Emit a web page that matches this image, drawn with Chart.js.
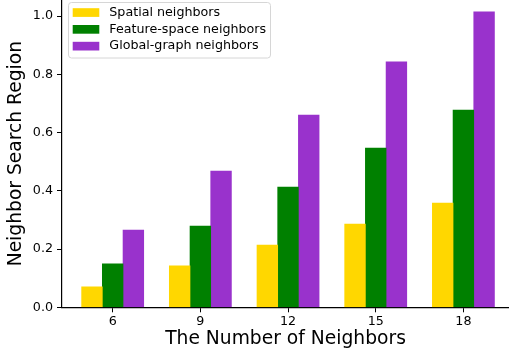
<!DOCTYPE html>
<html>
<head>
<meta charset="utf-8">
<script src="https://cdn.jsdelivr.net/npm/chart.js@4"></script>
<style>
  html, body { margin: 0; padding: 0; background: #fff; }
  #wrap { width: 509px; height: 351px; }
</style>
</head>
<body>
<div id="wrap"><canvas id="myChart" width="509" height="351"></canvas></div>
<script>
var categories = ["6", "9", "12", "15", "18"];
var spatial = [0.070, 0.142, 0.214, 0.286, 0.358];
var featureSpace = [0.149, 0.279, 0.413, 0.547, 0.677];
var globalGraph = [0.265, 0.468, 0.660, 0.843, 1.014];
var yTicks = [0, 0.2, 0.4, 0.6, 0.8, 1.0];

function points(vals) {
    var out = [];
    for (var i = 0; i < vals.length; i++) {
        out.push({ x: i, y: vals[i] });
    }
    return out;
}

// legend box drawn inside the plot, top left like matplotlib
var boxLegend = {
    id: "boxLegend",
    afterDraw: function (chart) {
        var ctx = chart.ctx;
        var x = 68.5, y = 2.5, w = 202, h = 55.5, r = 3;
        ctx.save();
        ctx.beginPath();
        ctx.moveTo(x + r, y);
        ctx.arcTo(x + w, y, x + w, y + h, r);
        ctx.arcTo(x + w, y + h, x, y + h, r);
        ctx.arcTo(x, y + h, x, y, r);
        ctx.arcTo(x, y, x + w, y, r);
        ctx.closePath();
        ctx.fillStyle = "rgba(255,255,255,0.8)";
        ctx.fill();
        ctx.strokeStyle = "#d6d6d6";
        ctx.lineWidth = 1;
        ctx.stroke();
        ctx.font = "12.7px 'DejaVu Sans'";
        ctx.textBaseline = "middle";
        ctx.textAlign = "left";
        chart.data.datasets.forEach(function (ds, i) {
            var cy = 12.5 + i * 16.8;
            ctx.fillStyle = ds.backgroundColor;
            ctx.fillRect(72.7, cy - 4.3, 26.6, 8.7);
            ctx.fillStyle = "#000";
            ctx.fillText(ds.label, 109.3, cy);
        });
        ctx.restore();
    }
};

var myChart = document.getElementById("myChart").getContext("2d");
var massPopChart = new Chart(myChart, {
    type: "bar",
    data: {
        datasets: [{
            label: "Spatial neighbors",
            data: points(spatial),
            backgroundColor: "#FFD700"
        }, {
            label: "Feature-space neighbors",
            data: points(featureSpace),
            backgroundColor: "#008000"
        }, {
            label: "Global-graph neighbors",
            data: points(globalGraph),
            backgroundColor: "#9932CC"
        }]
    },
    plugins: [boxLegend],
    options: {
        responsive: false,
        animation: false,
        layout: { padding: 0 },
        datasets: { bar: { barThickness: 20.7 } },
        plugins: {
            legend: { display: false },
            tooltip: { enabled: false }
        },
        scales: {
            x: {
                type: "linear",
                offset: false,
                min: -0.578,
                max: 4.52,
                afterBuildTicks: function (scale) {
                    scale.ticks = categories.map(function (c, i) { return { value: i }; });
                },
                afterFit: function (scale) {
                    scale.height = 43.7;
                    scale.paddingLeft = 0;
                    scale.paddingRight = 0;
                },
                ticks: {
                    callback: function (v) { return categories[v]; },
                    font: { family: "DejaVu Sans", size: 12.7 },
                    color: "#000",
                    padding: 2,
                    maxRotation: 0,
                    autoSkip: false
                },
                grid: { offset: false, drawOnChartArea: false, tickLength: 5, color: "#000", tickWidth: 1 },
                border: { display: true, color: "#000", width: 1.2 },
                title: {
                    display: true,
                    text: "The Number of Neighbors",
                    font: { family: "DejaVu Sans", size: 18.7 },
                    color: "#000",
                    padding: { top: 0, bottom: 1 }
                }
            },
            y: {
                min: 0,
                max: 1.055,
                afterBuildTicks: function (scale) {
                    scale.ticks = yTicks.map(function (v) { return { value: v }; });
                },
                afterFit: function (scale) {
                    scale.width = 62;
                    scale.paddingTop = 0;
                    scale.paddingBottom = 0;
                },
                ticks: {
                    callback: function (v) { return v.toFixed(1); },
                    font: { family: "DejaVu Sans", size: 12.7 },
                    color: "#000",
                    padding: 4
                },
                grid: { drawOnChartArea: false, tickLength: 5, color: "#000", tickWidth: 1 },
                border: { display: true, color: "#000", width: 1.2 },
                title: {
                    display: true,
                    text: "Neighbor Search Region",
                    font: { family: "DejaVu Sans", size: 18.7 },
                    color: "#000",
                    padding: { top: 5, bottom: 0 }
                }
            }
        }
    }
});
</script>
</body>
</html>
